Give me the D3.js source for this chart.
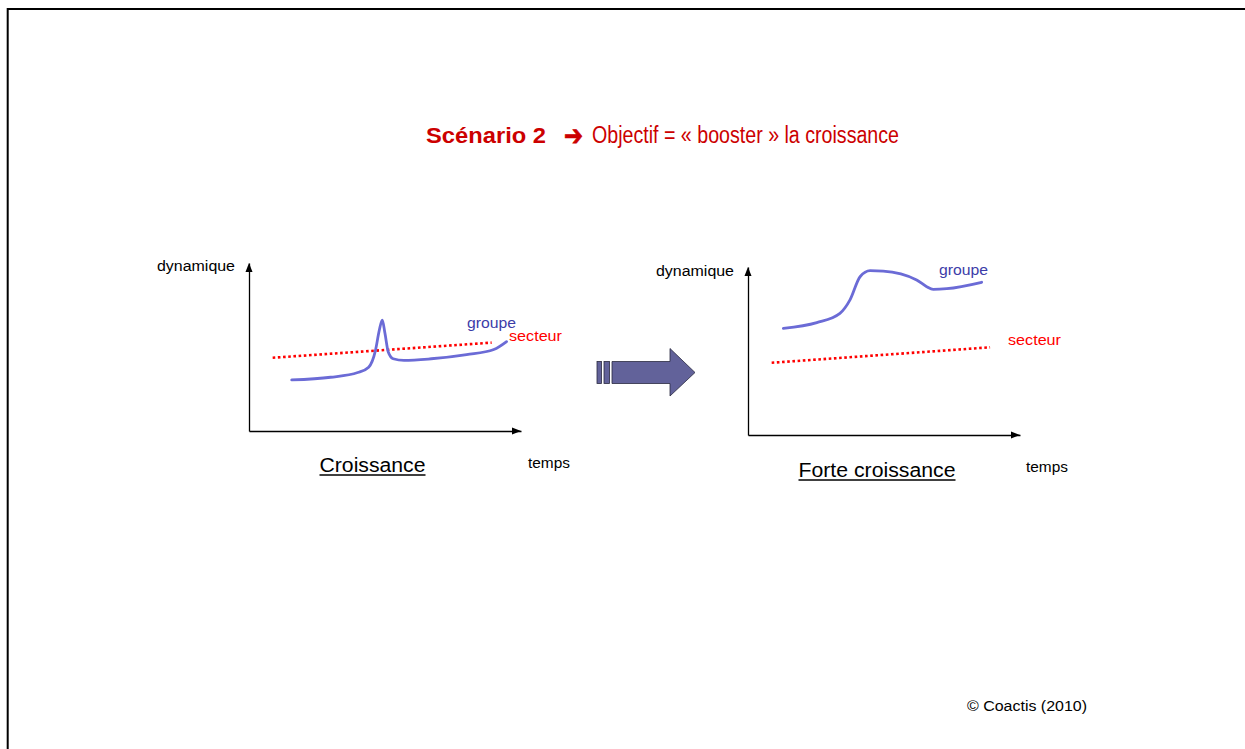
<!DOCTYPE html>
<html><head><meta charset="utf-8">
<script src="https://cdn.jsdelivr.net/npm/d3@7"></script>
<style>html,body{margin:0;padding:0;background:#fff;}svg{display:block;font-family:"Liberation Sans",Arial,sans-serif;}</style>
</head><body>
<script>
// ---- data ----
const titleBold = "Scénario 2";
const titleArrow = "➔";
const titleRest = "Objectif = « booster » la croissance";
const yLabel = "dynamique";
const xLabel = "temps";
const seriesNames = ["groupe", "secteur"];
const chartTitles = ["Croissance", "Forte croissance"];
const credit = "© Coactis (2010)";

// left chart: "Croissance"
const leftGroupeT = [15.7, 30, 40, 44, 46.5, 47.9, 49.0, 50.0, 51.2, 53, 57, 67, 80, 90, 94.7];
const leftGroupeV = [30.4, 32, 34.8, 38, 48, 60, 66, 58, 47, 43, 42, 43, 45.5, 48.5, 53.2];
const leftSecteurT = [8.7, 89.2];
const leftSecteurV = [43.6, 52.6];

// right chart: "Forte croissance"
const rightGroupeT = [13.0, 25.3, 33.8, 37.5, 41.2, 44.9, 49.7, 62.0, 65.7, 68.1, 73.1, 85.9];
const rightGroupeV = [63.5, 66.9, 72.4, 80.4, 94.2, 97.8, 97.6, 92.3, 88.3, 86.7, 87.1, 90.9];
const rightSecteurT = [8.7, 89.0];
const rightSecteurV = [43.0, 52.2];

const W = 1245, H = 749;
const svg = d3.select("body").append("svg").attr("width", W).attr("height", H);

// slide frame
svg.append("path").attr("d", `M7.7,${H}V9H${W}`).attr("fill", "none").attr("stroke", "#000").attr("stroke-width", 2);

function txt(x, y, s, opt) {
  const t = svg.append("text").attr("x", x).attr("y", y).text(s)
    .attr("font-size", opt.size || 14)
    .attr("fill", opt.color || "#000")
    .attr("font-weight", opt.weight || "normal")
    .attr("text-anchor", opt.anchor || "start");
  if (opt.family) t.attr("font-family", opt.family);
  if (opt.len) t.attr("textLength", opt.len).attr("lengthAdjust", "spacingAndGlyphs");
  return t;
}

// title
txt(426, 143, titleBold, {size: 22, color: "#cc0000", weight: "bold", len: 120});
txt(564, 145, titleArrow, {size: 28, color: "#cc0000", weight: "bold", family: "DejaVu Sans", len: 19})
  .attr("stroke", "#cc0000").attr("stroke-width", 0.8);
txt(592, 143, titleRest, {size: 23, color: "#cc0000", family: "'Liberation Sans Narrow','Liberation Sans',Arial", len: 307});

const groupeColor = "#6b6bd6", labelBlue = "#3c3ca8", secteurColor = "#ff0000";

function chart(cfg) {
  const x = d3.scaleLinear().domain([0, 100]).range([cfg.x0, cfg.x1]);
  const y = d3.scaleLinear().domain([0, 100]).range([cfg.y0, cfg.y1]);
  const g = svg.append("g");
  g.append("g").attr("transform", `translate(0,${cfg.y0})`)
    .call(d3.axisBottom(x).tickValues([]).tickSizeOuter(0))
    .call(a => a.select(".domain").attr("stroke", "#000").attr("stroke-width", 1.3));
  g.append("g").attr("transform", `translate(${cfg.x0},0)`)
    .call(d3.axisLeft(y).tickValues([]).tickSizeOuter(0))
    .call(a => a.select(".domain").attr("stroke", "#000").attr("stroke-width", 1.3));
  const xe = x(100), yt = y(100);
  g.append("path").attr("d", `M${xe},${cfg.y0}L${xe-9},${cfg.y0-3.5}L${xe-9},${cfg.y0+3.5}Z`).attr("fill", "#000");
  g.append("path").attr("d", `M${cfg.x0},${yt}L${cfg.x0-3.5},${yt+9}L${cfg.x0+3.5},${yt+9}Z`).attr("fill", "#000");

  const line = d3.line().x(d => x(d[0])).y(d => y(d[1])).curve(d3.curveMonotoneX);
  g.append("path").datum(d3.zip(cfg.sT, cfg.sV)).attr("d", d3.line().x(d => x(d[0])).y(d => y(d[1])))
    .attr("fill", "none").attr("stroke", secteurColor).attr("stroke-width", 2.6).attr("stroke-dasharray", "2.6,2.6");
  g.append("path").datum(d3.zip(cfg.gT, cfg.gV)).attr("d", line)
    .attr("fill", "none").attr("stroke", groupeColor).attr("stroke-width", 2.8).attr("stroke-linecap", "round");

  txt(cfg.dynX, cfg.dynY, yLabel, {size: 14, len: 78});
  txt(cfg.tempsX, cfg.tempsY, xLabel, {size: 14, len: 42});
  txt(cfg.gX, cfg.gY, seriesNames[0], {size: 14.5, color: labelBlue, len: 49});
  txt(cfg.sX, cfg.sY, seriesNames[1], {size: 14.5, color: secteurColor, len: 53});
  txt(cfg.tX, cfg.tY, cfg.title, {size: 20, len: cfg.tLen, anchor: "middle"});
  g.append("line").attr("x1", cfg.tX - cfg.tLen/2).attr("x2", cfg.tX + cfg.tLen/2)
    .attr("y1", cfg.tY + 3).attr("y2", cfg.tY + 3).attr("stroke", "#000").attr("stroke-width", 1.3);
}

chart({x0: 249, x1: 521, y0: 431, y1: 263,
  gT: leftGroupeT, gV: leftGroupeV, sT: leftSecteurT, sV: leftSecteurV,
  dynX: 157, dynY: 271, tempsX: 528, tempsY: 468, gX: 467, gY: 328, sX: 509, sY: 341,
  title: chartTitles[0], tX: 372.5, tY: 472, tLen: 106});

chart({x0: 748, x1: 1020, y0: 435, y1: 267,
  gT: rightGroupeT, gV: rightGroupeV, sT: rightSecteurT, sV: rightSecteurV,
  dynX: 656, dynY: 276, tempsX: 1026, tempsY: 472, gX: 939, gY: 275, sX: 1008, sY: 345,
  title: chartTitles[1], tX: 877, tY: 477, tLen: 157});

// transition arrow
svg.append("rect").attr("x", 597).attr("y", 361.5).attr("width", 4.5).attr("height", 22).attr("fill", "#62629a").attr("stroke", "#2a2a40").attr("stroke-width", 0.8);
svg.append("rect").attr("x", 604).attr("y", 361.5).attr("width", 5.5).attr("height", 22).attr("fill", "#62629a").attr("stroke", "#2a2a40").attr("stroke-width", 0.8);
svg.append("path").attr("d", "M612,361.5H670V348.5L695,372.5L670,396V383.5H612Z")
  .attr("fill", "#62629a").attr("stroke", "#2a2a40").attr("stroke-width", 0.8);

txt(967, 711, credit, {size: 14, len: 120});
</script>
</body></html>
